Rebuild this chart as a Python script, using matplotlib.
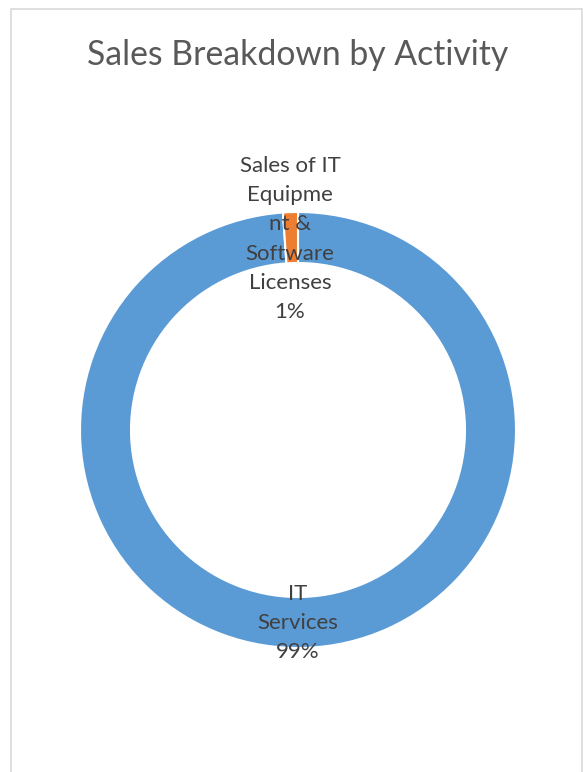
import matplotlib
matplotlib.use('Agg')
from matplotlib import pyplot as plt
from matplotlib.patches import Rectangle

# data
categories = ['IT Services', 'Sales of IT Equipment & Software Licenses']
values = [98.9, 1.1]
labels = ['IT\nServices\n99%', 'Sales of IT\nEquipme\nnt &\nSoftware\nLicenses\n1%']
colors = ['#5B9BD5', '#ED7D31']

W, H = 583, 772
plt.rcParams['font.family'] = ['Lato', 'DejaVu Sans']

fig = plt.figure(figsize=(W / 100, H / 100), dpi=100)
ax = fig.add_axes([0, 0, 1, 1])

# chart frame
ax.add_patch(Rectangle((11, -5), 570.5, H - 9 + 5, fill=False, edgecolor='#D9D9D9', linewidth=1.2))

cx, cy, r = 298, H - 430, 218
ax.pie(values, colors=colors, startangle=90, counterclock=False, center=(cx, cy), radius=r,
       wedgeprops=dict(width=51, edgecolor='white', linewidth=1.5), frame=True)
ax.set_xlim(0, W)
ax.set_ylim(0, H)
ax.set_aspect('auto')
ax.axis('off')

ax.text(298, H - 55, 'Sales Breakdown by Activity', ha='center', va='center', fontsize=24.3, color='#595959')

ax.text(298, H - 623, labels[0], ha='center', va='center', fontsize=16, color='#404040', linespacing=1.58)
ax.text(290, H - 239, labels[1], ha='center', va='center', fontsize=16, color='#404040', linespacing=1.58)

fig.savefig('out.png', dpi=100)
